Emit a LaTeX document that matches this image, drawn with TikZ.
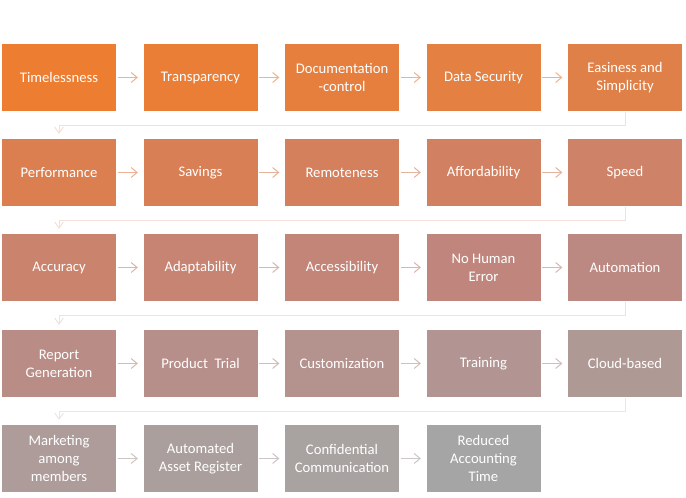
\documentclass[tikz,border=0pt]{standalone}
\usepackage{fontspec}
\setmainfont{Carlito}
\usetikzlibrary{arrows.meta}
\definecolor{c0}{RGB}{237,125,49}
\definecolor{c1}{RGB}{234,126,55}
\definecolor{c2}{RGB}{230,127,61}
\definecolor{c3}{RGB}{227,128,66}
\definecolor{c4}{RGB}{223,128,72}
\definecolor{c5}{RGB}{220,127,80}
\definecolor{c6}{RGB}{216,127,86}
\definecolor{c7}{RGB}{213,128,92}
\definecolor{c8}{RGB}{209,129,97}
\definecolor{c9}{RGB}{206,130,103}
\definecolor{c10}{RGB}{202,131,109}
\definecolor{c11}{RGB}{199,132,114}
\definecolor{c12}{RGB}{195,133,119}
\definecolor{c13}{RGB}{192,134,125}
\definecolor{c14}{RGB}{188,136,130}
\definecolor{c15}{RGB}{185,140,134}
\definecolor{c16}{RGB}{183,143,138}
\definecolor{c17}{RGB}{180,146,142}
\definecolor{c18}{RGB}{178,149,146}
\definecolor{c19}{RGB}{175,153,149}
\definecolor{c20}{RGB}{173,156,153}
\definecolor{c21}{RGB}{170,159,157}
\definecolor{c22}{RGB}{168,162,161}
\definecolor{c23}{RGB}{165,165,165}
\tikzset{
  stepbox/.style={fill=#1, draw=none, minimum width=85.5pt, minimum height=50.5pt,
    inner sep=0pt, text=white, align=center, font=\fontsize{11}{13.5}\selectfont},
  harrow/.style={draw=#1!60!white, line width=0.75pt, -{Straight Barb[length=4.5pt,width=7.5pt]}},
  rowlink/.style={draw=#1!25!white, line width=0.75pt, -{Straight Barb[length=4.5pt,width=6.5pt]}},
}
\begin{document}
\begin{tikzpicture}[x=0.75pt,y=-0.75pt]
\useasboundingbox (0,0) rectangle (686,498);
% row 1
\node[stepbox=c0]  (b0)  at (59,77.5) {Timelessness};
\node[stepbox=c1]  (b1)  at (200.5,77.5) {Transparency};
\node[stepbox=c2]  (b2)  at (342,77.5) {Documentation\\-control};
\node[stepbox=c3]  (b3)  at (483.5,77.5) {Data Security};
\node[stepbox=c4]  (b4)  at (625,77.5) {Easiness and\\Simplicity};
% row 2
\node[stepbox=c5]  (b5)  at (59,172.5) {Performance};
\node[stepbox=c6]  (b6)  at (200.5,172.5) {Savings};
\node[stepbox=c7]  (b7)  at (342,172.5) {Remoteness};
\node[stepbox=c8]  (b8)  at (483.5,172.5) {Affordability};
\node[stepbox=c9]  (b9)  at (625,172.5) {Speed};
% row 3
\node[stepbox=c10] (b10) at (59,267.5) {Accuracy};
\node[stepbox=c11] (b11) at (200.5,267.5) {Adaptability};
\node[stepbox=c12] (b12) at (342,267.5) {Accessibility};
\node[stepbox=c13] (b13) at (483.5,267.5) {No Human\\Error};
\node[stepbox=c14] (b14) at (625,267.5) {Automation};
% row 4
\node[stepbox=c15] (b15) at (59,363.5) {Report\\Generation};
\node[stepbox=c16] (b16) at (200.5,363.5) {Product\ \ Trial};
\node[stepbox=c17] (b17) at (342,363.5) {Customization};
\node[stepbox=c18] (b18) at (483.5,363.5) {Training};
\node[stepbox=c19] (b19) at (625,363.5) {Cloud-based};
% row 5
\node[stepbox=c20] (b20) at (59,458.5) {Marketing\\among\\members};
\node[stepbox=c21] (b21) at (200.5,458.5) {Automated\\Asset Register};
\node[stepbox=c22] (b22) at (342,458.5) {Confidential\\Communication};
\node[stepbox=c23] (b23) at (483.5,458.5) {Reduced\\Accounting\\Time};
% horizontal arrows
\foreach \a/\b in {0/1,1/2,2/3,3/4,5/6,6/7,7/8,8/9,10/11,11/12,12/13,13/14,15/16,16/17,17/18,18/19,20/21,21/22,22/23}{
  \draw[harrow=c\a] ([xshift=1pt]b\a.east) -- ([xshift=-4pt]b\b.west);
}
% row links
\foreach \a/\b in {4/5,9/10,14/15,19/20}{
  \draw[rowlink=c\a] ([yshift=-0.75pt]b\a.south) -- ++(0,13) -| ([yshift=3.5pt]b\b.north);
}
\end{tikzpicture}
\end{document}
